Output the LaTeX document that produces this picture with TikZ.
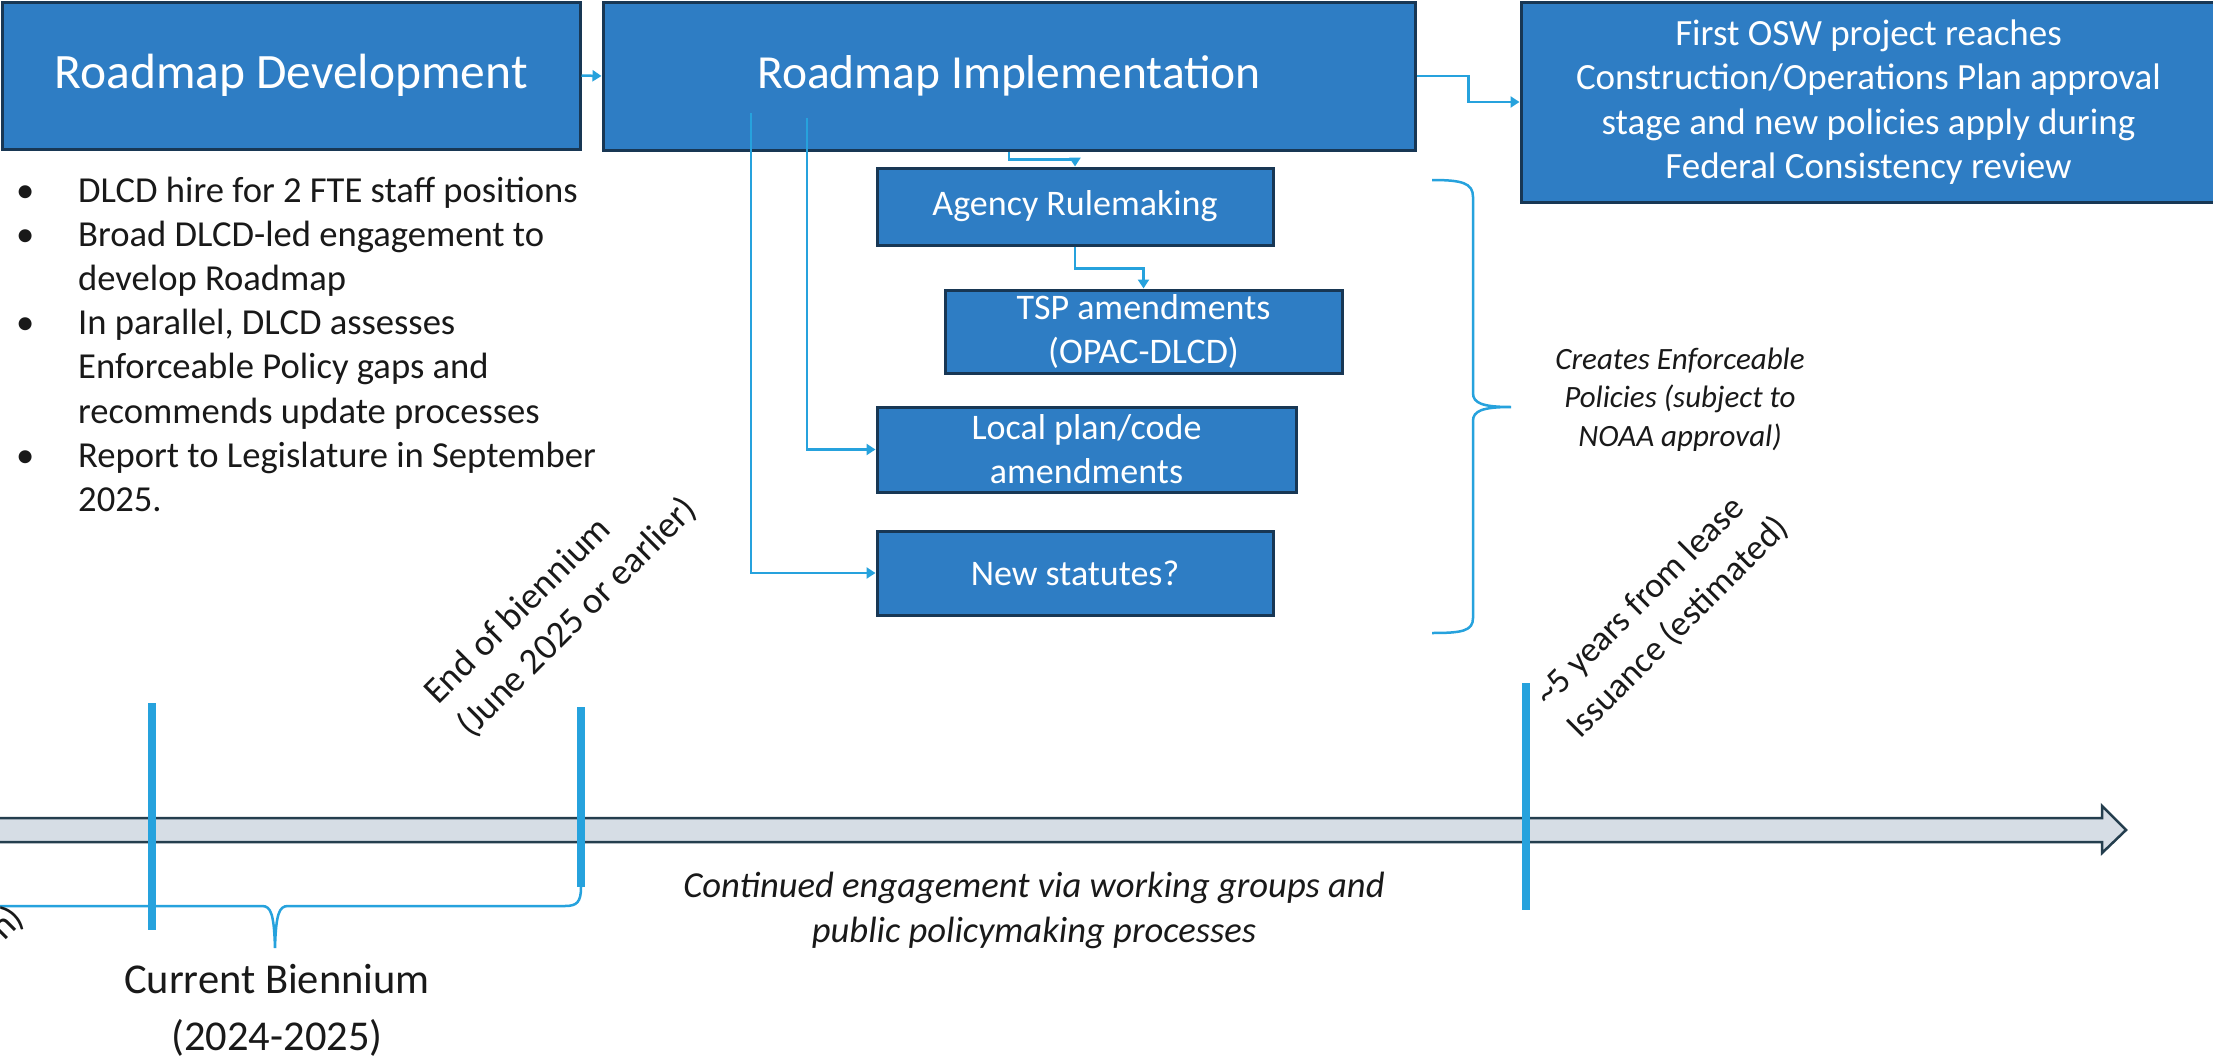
\documentclass[tikz,border=0pt]{standalone}
\usepackage{fontspec}
\setmainfont{Carlito}
\usetikzlibrary{arrows.meta}
\definecolor{boxfill}{RGB}{46,125,196}
\definecolor{boxline}{RGB}{24,55,84}
\definecolor{conn}{RGB}{38,162,221}
\definecolor{bandfill}{RGB}{214,221,229}
\definecolor{bandline}{RGB}{36,62,78}
\definecolor{txt}{RGB}{25,25,25}
\begin{document}
\begin{tikzpicture}[x=1pt,y=-1pt,
  box/.style={draw=boxline, fill=boxfill, line width=3pt, text=white, inner sep=0pt, align=center},
  subbox/.style={box, font=\fontsize{36}{44}\selectfont},
  conn/.style={draw=conn, line width=2.5pt, -{Triangle[width=11pt,length=9pt]}},
  plain/.style={draw=conn, line width=2.5pt},
  tickmark/.style={draw=conn, line width=7.5pt},
  dark/.style={text=txt, inner sep=0pt},
  rot/.style={dark, rotate=45, anchor=base west, font=\fontsize{37}{45}\selectfont},
]
\fill[white] (0,0) rectangle (2213,1060);
\useasboundingbox (0,0) rectangle (2213,1060);

% main boxes
\node[box, minimum width=578pt, minimum height=147pt, font=\fontsize{49.5}{58}\selectfont] (A) at (291,75.5) {\raisebox{-4pt}{Roadmap Development}};
\node[box, minimum width=812pt, minimum height=148pt, font=\fontsize{47.5}{56}\selectfont] (B) at (1009,76) {\raisebox{-4pt}{Roadmap Implementation}};
\node[box, minimum width=695pt, minimum height=200pt, font=\fontsize{37}{44.5}\selectfont] (C) at (1868.5,102) {First OSW project reaches\\Construction/Operations Plan approval\\stage and new policies apply during\\Federal Consistency review};

% sub boxes
\node[subbox, minimum width=396pt, minimum height=77pt] (Ag) at (1075,206.5) {Agency Rulemaking};
\node[subbox, minimum width=397pt, minimum height=83pt] (TSP) at (1143.5,331.5) {TSP amendments\\(OPAC-DLCD)};
\node[subbox, minimum width=419pt, minimum height=85pt] (Loc) at (1086.5,449.5) {Local plan/code\\amendments};
\node[subbox, minimum width=396pt, minimum height=84pt] (New) at (1075,573) {New statutes?};

% bullets
\node[dark, anchor=north west, align=left, font=\fontsize{36.6}{44.2}\selectfont] (bul) at (16,171) {\strut\makebox[62pt][l]{•}DLCD hire for 2 FTE staff positions\\
\makebox[62pt][l]{•}Broad DLCD-led engagement to\\
\hspace*{62pt}develop Roadmap\\
\makebox[62pt][l]{•}In parallel, DLCD assesses\\
\hspace*{62pt}Enforceable Policy gaps and\\
\hspace*{62pt}recommends update processes\\
\makebox[62pt][l]{•}Report to Legislature in September\\
\hspace*{62pt}2025.};

% connectors
\draw[conn] (A.east) -- (B.west);
\draw[conn] (B.east) -- ++(52,0) |- (C.west);
\draw[conn] (B.south) -- ++(0,8) -| (Ag.north);
\draw[conn] (Ag.south) -- ++(0,22) -| (TSP.north);
\coordinate (sL) at (807,118);
\coordinate (sN) at (751,113);
\draw[conn] (sL) |- (Loc.west);
\draw[conn] (sN) |- (New.west);

% right brace
\draw[plain] (1432,180) .. controls (1462,180) and (1473,183) .. (1473,197) -- (1473,393)
  .. controls (1473,403) and (1482,407) .. (1511,407)
  .. controls (1482,407) and (1473,411) .. (1473,421) -- (1473,618)
  .. controls (1473,631) and (1462,633) .. (1432,633);
\node[dark, anchor=north, align=center, font=\fontsize{31}{38.5}\selectfont\itshape] (cre) at (1680,342) {\strut Creates Enforceable\\Policies (subject to\\NOAA approval)};

% timeline band
\draw[draw=bandline, fill=bandfill, line width=2.5pt, line join=miter]
  (-10,818) -- (2102,818) -- (2102,806) -- (2126,830) -- (2102,853) -- (2102,842) -- (-10,842) -- cycle;

% ticks
\draw[tickmark] (152,703) -- (152,930);
\draw[tickmark] (581,707) -- (581,887);
\draw[tickmark] (1526,683) -- (1526,910);

% lower brace
\draw[plain] (581,887) .. controls (581,902) and (577,906) .. (565,906) -- (288,906)
  .. controls (279,906) and (276,914) .. (275,948)
  .. controls (274,914) and (271,906) .. (262,906) -- (-15,906)
  .. controls (-27,906) and (-31,902) .. (-31,887);

% texts on timeline
\node[dark, anchor=north, align=center, font=\fontsize{42.5}{57}\selectfont] (cur) at (277,953) {\strut Current Biennium\\(2024-2025)};
\node[dark, anchor=north, align=center, font=\fontsize{36.6}{45}\selectfont\itshape] (cont) at (1034,866) {\strut Continued engagement via working groups and\\public policymaking processes};

\node[rot] (eb1) at (438,706) {End of biennium};
\node[rot] (eb2) at (471,739) {(June 2025 or earlier)};
\node[rot, font=\fontsize{35.5}{45}\selectfont] (fy1) at (1548,708) {\textasciitilde 5 years from lease};
\node[rot, font=\fontsize{35.5}{45}\selectfont] (fy2) at (1580,740) {Issuance (estimated)};
\node[rot, anchor=base east] (nn) at (26,920) {n)};
\end{tikzpicture}
\end{document}
